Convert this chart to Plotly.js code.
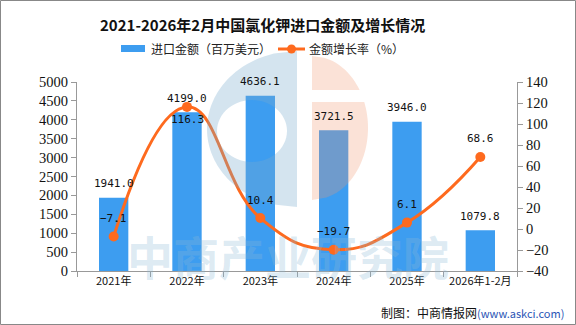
<!DOCTYPE html>
<html>
<head>
<meta charset="utf-8">
<script src="https://cdn.plot.ly/plotly-3.0.1.min.js"></script>
<style>
html,body{margin:0;padding:0;background:#fff;}
#chart{width:576px;height:325px;}
</style>
</head>
<body>
<div id="chart"></div>
<script>
// ---- data ----
const years = ['2021年', '2022年', '2023年', '2024年', '2025年', '2026年1-2月'];
const importValue = [1941.0, 4199.0, 4636.1, 3721.5, 3946.0, 1079.8];
const growthRate = [-7.1, 116.3, 10.4, -19.7, 6.1, 68.6];
const leftTicks = [0, 500, 1000, 1500, 2000, 2500, 3000, 3500, 4000, 4500, 5000];
const rightTicks = [-40, -20, 0, 20, 40, 60, 80, 100, 120, 140];

// ---- layout geometry (pixels) ----
const W = 576, H = 325;
const L = 77, R = 517, T = 82, B = 271;
const px = x => (x - L) / (R - L);
const py = y => (B - y) / (B - T);

const BAR = '#3d9df0';
const LINE = '#fe6a1e';
const CJK = '"Noto Sans CJK SC", "Noto Sans", sans-serif';
const MONO = '"DejaVu Sans Mono", monospace';
const NUM = '"Liberation Serif", serif';

const traces = [
  {
    type: 'bar', x: years, y: importValue, yaxis: 'y',
    marker: {color: BAR}, width: 0.4, showlegend: false, hoverinfo: 'skip'
  },
  {
    type: 'scatter', mode: 'lines+markers', x: years, y: growthRate, yaxis: 'y2',
    line: {color: LINE, width: 3, shape: 'spline', smoothing: 1.3},
    marker: {color: LINE, size: 10}, showlegend: false, hoverinfo: 'skip'
  }
];

const annotations = [];
importValue.forEach((v, i) => {
  annotations.push({
    x: years[i], y: v, xref: 'x', yref: 'y', text: v.toFixed(1),
    showarrow: false, yanchor: 'middle', yshift: 14,
    font: {family: MONO, size: 11, color: '#111'}
  });
});
const belowIdx = [1];
growthRate.forEach((v, i) => {
  const below = belowIdx.includes(i);
  annotations.push({
    x: years[i], y: v, xref: 'x', yref: 'y2', text: v.toFixed(1).replace('-', '−'),
    showarrow: false, yanchor: 'middle', yshift: below ? -13 : 18,
    font: {family: MONO, size: 11, color: '#111'}
  });
});

// watermark text
annotations.push({
  xref: 'paper', yref: 'paper', x: px(288), y: py(255), xanchor: 'center', yanchor: 'middle',
  text: '<b>中商产业研究院</b>', showarrow: false,
  font: {family: CJK, size: 46, color: 'rgba(140,185,215,0.30)'}
});

// legend texts
annotations.push({
  xref: 'paper', yref: 'paper', x: px(149), y: py(49), xanchor: 'left', yanchor: 'middle',
  text: '进口金额（百万美元）', showarrow: false, font: {family: CJK, size: 12, color: '#222'}
});
annotations.push({
  xref: 'paper', yref: 'paper', x: px(307), y: py(49), xanchor: 'left', yanchor: 'middle',
  text: '金额增长率（%）', showarrow: false, font: {family: CJK, size: 12, color: '#222'}
});
// title
annotations.push({
  xref: 'paper', yref: 'paper', x: px(262), y: py(25), xanchor: 'center', yanchor: 'middle',
  text: '<b>2021-2026年2月中国氯化钾进口金额及增长情况</b>', showarrow: false,
  font: {family: CJK, size: 15, color: '#111'}
});
// footer
annotations.push({
  xref: 'paper', yref: 'paper', x: px(566), y: py(312), xanchor: 'right', yanchor: 'middle',
  text: '制图：中商情报网<span style="color:#2a55b5;font-size:11px">(www.askci.com)</span>',
  showarrow: false, font: {family: CJK, size: 12, color: '#111'}
});

// ---- watermark logo shapes (polygons in paper coords) ----
function halfEllipse(cx, cy, rx, ry, side, y0, y1, n) {
  const pts = [];
  for (let k = 0; k <= n; k++) {
    const y = y0 + (y1 - y0) * k / n;
    const t = Math.max(0, 1 - Math.pow((y - cy) / ry, 2));
    pts.push([cx + side * rx * Math.sqrt(t), y]);
  }
  pts.push([cx, y1]);
  pts.push([cx, y0]);
  return pts;
}
function ellipsePts(cx, cy, rx, ry, n, reverse) {
  const pts = [];
  for (let k = 0; k < n; k++) {
    let a = 2 * Math.PI * k / n;
    if (reverse) a = -a;
    pts.push([cx + rx * Math.cos(a), cy + ry * Math.sin(a)]);
  }
  return pts;
}
function toPath(polys) {
  return polys.map(p => 'M' + p.map(q => px(q[0]).toFixed(4) + ',' + py(q[1]).toFixed(4)).join('L') + 'Z').join(' ');
}
const blueOuter = halfEllipse(297, 129, 90, 78, -1, 51, 207, 60);
const blueHole = ellipsePts(252, 131, 35, 31, 60, true);
const orangeTop = halfEllipse(312, 128, 56, 72, 1, 56, 90, 20);
const orangeBot = halfEllipse(312, 128, 56, 72, 1, 102, 200, 40);

const shapes = [
  {type: 'path', xref: 'paper', yref: 'paper', layer: 'above',
   path: toPath([blueOuter, blueHole]),
   fillcolor: 'rgba(120,170,205,0.32)', line: {width: 0}},
  {type: 'path', xref: 'paper', yref: 'paper', layer: 'above',
   path: toPath([orangeTop, orangeBot]),
   fillcolor: 'rgba(240,150,110,0.28)', line: {width: 0}},
  // legend symbols
  {type: 'rect', xref: 'paper', yref: 'paper', x0: px(121), x1: px(145), y0: py(45), y1: py(52),
   fillcolor: BAR, line: {width: 0}},
  {type: 'line', xref: 'paper', yref: 'paper', x0: px(278), x1: px(305), y0: py(49), y1: py(49),
   line: {color: LINE, width: 3}},
  {type: 'circle', xref: 'paper', yref: 'paper', x0: px(287), x1: px(296), y0: py(44.5), y1: py(53.5),
   fillcolor: LINE, line: {width: 0}},
  // border
  {type: 'rect', xref: 'paper', yref: 'paper', x0: px(0.5), x1: px(575.5), y0: py(0.5), y1: py(324.5),
   line: {color: '#888', width: 1}, fillcolor: 'rgba(0,0,0,0)'}
];

const axisLine = '#999';
const layout = {
  width: W, height: H,
  margin: {l: L, r: W - R, t: T, b: H - B, pad: 0},
  paper_bgcolor: '#fff', plot_bgcolor: '#fff',
  showlegend: false,
  xaxis: {
    type: 'category', range: [-0.5, years.length - 0.5],
    showline: true, linecolor: axisLine, linewidth: 1,
    ticks: 'outside', tickson: 'boundaries', ticklen: 5, tickcolor: axisLine,
    showgrid: false, zeroline: false,
    tickfont: {family: CJK, size: 11, color: '#111'}
  },
  yaxis: {
    range: [0, 5000], tickvals: leftTicks, ticktext: leftTicks.map(String),
    showline: true, linecolor: axisLine, linewidth: 1,
    ticks: 'outside', ticklen: 5, tickcolor: axisLine,
    showgrid: false, zeroline: false,
    tickfont: {family: NUM, size: 14.5, color: '#111'}
  },
  yaxis2: {
    overlaying: 'y', side: 'right', range: [-40, 140], tickvals: rightTicks,
    ticktext: rightTicks.map(v => String(v).replace('-', '−')),
    showline: true, linecolor: axisLine, linewidth: 1,
    ticks: 'outside', ticklen: 5, tickcolor: axisLine,
    showgrid: false, zeroline: false,
    tickfont: {family: NUM, size: 14.5, color: '#111'}
  },
  annotations: annotations,
  shapes: shapes
};

Plotly.newPlot('chart', traces, layout, {staticPlot: true, displayModeBar: false});
</script>
</body>
</html>
